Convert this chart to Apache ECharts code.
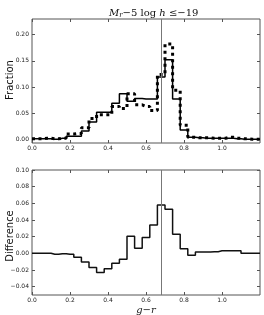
<!DOCTYPE html>
<html><head><meta charset="utf-8">
<script src="https://cdn.jsdelivr.net/npm/echarts@6/dist/echarts.min.js"></script>
<style>html,body{margin:0;padding:0;background:#fff}#c{width:264px;height:315px}</style>
</head><body><div id="c"></div><script>
const binCenters = [0.00,0.04,0.08,0.12,0.16,0.20,0.24,0.28,0.32,0.36,0.40,0.44,0.48,0.52,0.56,0.60,0.64,0.68,0.72,0.76,0.80,0.84,0.88,0.92,0.96,1.00,1.04,1.08,1.12,1.16,1.20];
const fractionSolid = [0.001,0.001,0.001,0.000,0.002,0.006,0.006,0.016,0.033,0.052,0.052,0.069,0.087,0.073,0.078,0.077,0.077,0.119,0.152,0.077,0.018,0.004,0.003,0.002,0.002,0.002,0.002,0.001,0.000,0.000,0.000];
const fractionDotted = [0.001,0.001,0.002,0.001,0.002,0.010,0.011,0.022,0.040,0.047,0.047,0.063,0.059,0.087,0.066,0.063,0.055,0.124,0.182,0.094,0.027,0.004,0.003,0.003,0.002,0.002,0.004,0.002,0.001,0.000,0.000];
const difference = [0,0,0,-0.0012,-0.0004,-0.001,-0.0048,-0.0104,-0.017,-0.023,-0.0184,-0.012,-0.007,0.0204,0.006,0.019,0.034,0.058,0.053,0.023,0.0056,-0.0024,0.0016,0.0016,0.002,0.003,0.003,0.003,0,0,0];
const cutValue = 0.68;
const xTicks = [0.0,0.2,0.4,0.6,0.8,1.0];
const fracTicks = [0.00,0.05,0.10,0.15,0.20];
const diffTicks = [-0.04,-0.02,0.00,0.02,0.04,0.06,0.08,0.10];
const topYName = 'Fraction';
const bottomYName = 'Difference';
const xName = 'g\u2212r';

const pair = (ys) => binCenters.map((x,i)=>[x, ys[i]]);
const frameColor = '#555';
const lblStyle = {fontFamily:'DejaVu Sans', fontSize:6, color:'#222'};
const fmtY = v => (v < 0 ? '\u2212' : '') + Math.abs(v).toFixed(2);

function xAx(grid, pos, showLabels, name) {
  return {
    type:'value', gridIndex:grid, position:pos, min:0, max:1.2,
    axisLine:{show:false, onZero:false},
    splitLine:{show:false},
    axisTick:{show:true, inside:true, length:3, customValues:xTicks, lineStyle:{color:frameColor, width:1}},
    axisLabel:{show:showLabels, customValues:xTicks, margin:2, formatter:v=>v.toFixed(1), ...lblStyle},
    name: name || '', nameLocation:'middle', nameGap:10,
    nameTextStyle:{fontFamily:'DejaVu Serif', fontStyle:'italic', fontSize:10, color:'#222'}
  };
}
function yAx(grid, pos, min, max, ticks, showLabels) {
  return {
    type:'value', gridIndex:grid, position:pos, min:min, max:max,
    axisLine:{show:false, onZero:false},
    splitLine:{show:false},
    axisTick:{show:true, inside:true, length:3, customValues:ticks, lineStyle:{color:frameColor, width:1}},
    axisLabel:{show:showLabels, customValues:ticks, margin:3, formatter:fmtY, ...lblStyle}
  };
}
const cutLine = {
  silent:true, symbol:['none','none'], label:{show:false},
  lineStyle:{color:'#777', width:1, type:'solid'},
  data:[{xAxis:cutValue}]
};
const nameStyle = {fontFamily:'DejaVu Sans', fontSize:10, fill:'#111', textAlign:'center', textVerticalAlign:'middle'};

const chart = echarts.init(document.getElementById('c'), null, {renderer:'canvas'});
chart.setOption({
  animation:false,
  backgroundColor:'#fff',
  title:{
    text:'{i|M}{s|r}{n|\u22125 log }{i|h}{n| \u2264\u221219}',
    left:104, top:2,
    textStyle:{fontWeight:'normal', rich:{
      i:{fontFamily:'DejaVu Serif', fontStyle:'italic', fontWeight:'normal', fontSize:10, color:'#111'},
      s:{fontFamily:'DejaVu Serif', fontStyle:'italic', fontWeight:'normal', fontSize:7, color:'#111', padding:[5,0,0,0]},
      n:{fontFamily:'DejaVu Serif', fontWeight:'normal', fontSize:10, color:'#111'}
    }}
  },
  graphic:[
    {type:'text', x:10, y:80, rotation:Math.PI/2, style:{text:topYName, ...nameStyle}},
    {type:'text', x:10, y:236, rotation:Math.PI/2, style:{text:bottomYName, ...nameStyle}}
  ],
  grid:[
    {left:32, top:19, width:228, height:124, show:true, borderColor:frameColor, borderWidth:1, backgroundColor:'transparent', containLabel:false, outerBoundsMode:'none'},
    {left:32, top:170, width:228, height:125, show:true, borderColor:frameColor, borderWidth:1, backgroundColor:'transparent', containLabel:false, outerBoundsMode:'none'}
  ],
  xAxis:[ xAx(0,'bottom',true), xAx(0,'top',false), xAx(1,'bottom',true,xName), xAx(1,'top',false) ],
  yAxis:[
    yAx(0,'left',-0.007,0.23,fracTicks,true), yAx(0,'right',-0.007,0.23,fracTicks,false),
    yAx(1,'left',-0.05,0.10,diffTicks,true), yAx(1,'right',-0.05,0.10,diffTicks,false)
  ],
  series:[
    {type:'line', xAxisIndex:0, yAxisIndex:0, data:pair(fractionDotted), step:'middle', showSymbol:false,
     lineStyle:{color:'#000', width:3, type:[3,3.5], cap:'butt'}, z:3},
    {type:'line', xAxisIndex:0, yAxisIndex:0, data:pair(fractionSolid), step:'middle', showSymbol:false,
     lineStyle:{color:'#000', width:1.5}, markLine:cutLine, z:4},
    {type:'line', xAxisIndex:2, yAxisIndex:2, data:pair(difference), step:'middle', showSymbol:false,
     lineStyle:{color:'#111', width:1.5}, markLine:cutLine, z:4}
  ]
});
</script></body></html>
